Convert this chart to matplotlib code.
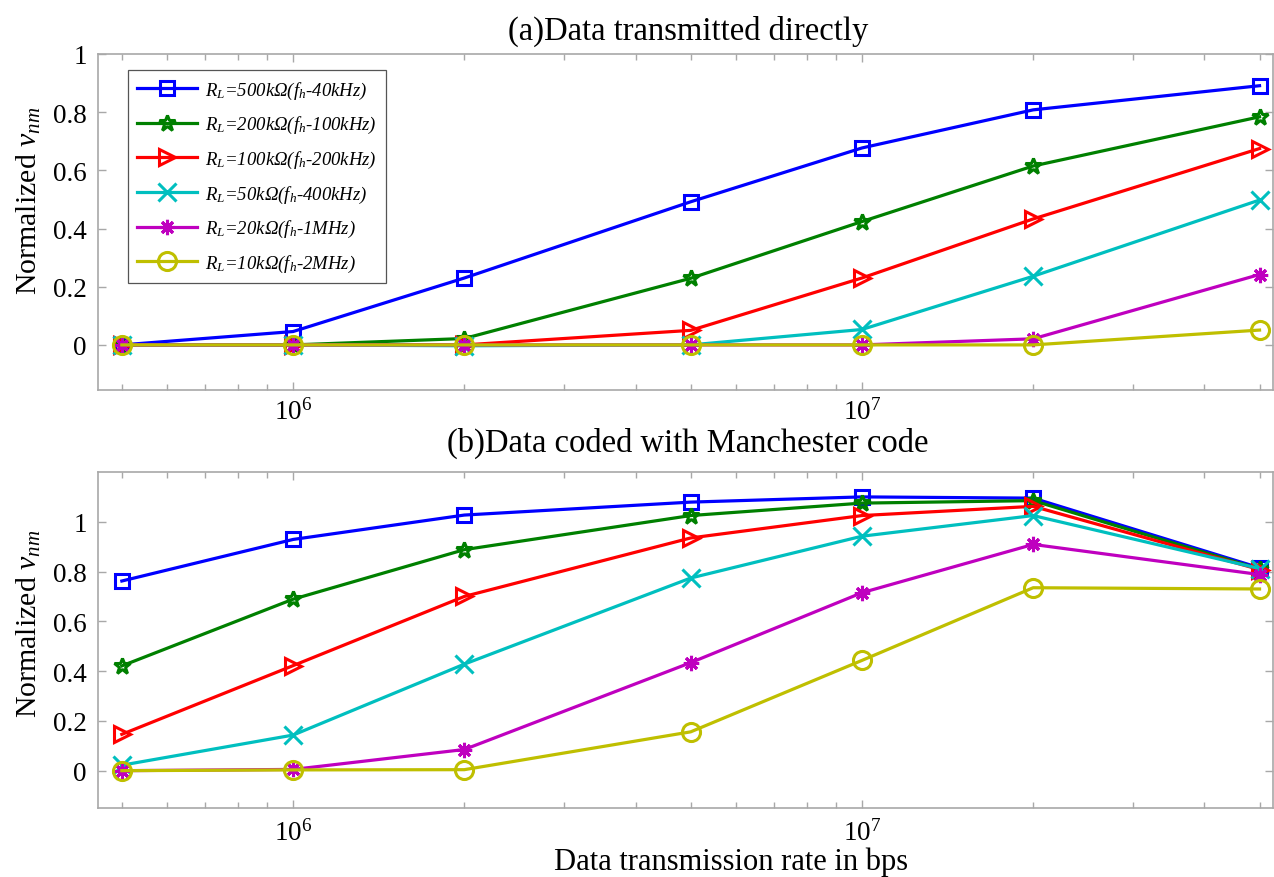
import numpy as np
import matplotlib
matplotlib.use('Agg')
import matplotlib.pyplot as plt

plt.rcParams['font.family'] = ['Liberation Serif', 'DejaVu Serif']
plt.rcParams['mathtext.fontset'] = 'custom'
plt.rcParams['mathtext.rm'] = 'Liberation Serif'
plt.rcParams['mathtext.it'] = 'Liberation Serif:italic'
plt.rcParams['mathtext.bf'] = 'Liberation Serif:bold'

# data rates (bps)
rates = [5e5, 1e6, 2e6, 5e6, 1e7, 2e7, 5e7]

labels = [
    r'$R_L$=500kΩ($f_h$-40kHz)',
    r'$R_L$=200kΩ($f_h$-100kHz)',
    r'$R_L$=100kΩ($f_h$-200kHz)',
    r'$R_L$=50kΩ($f_h$-400kHz)',
    r'$R_L$=20kΩ($f_h$-1MHz)',
    r'$R_L$=10kΩ($f_h$-2MHz)',
]

# (a) data sent directly
direct_500k = [0.0, 0.046, 0.23, 0.492, 0.677, 0.808, 0.891]
direct_200k = [0.0, 0.0, 0.022, 0.229, 0.424, 0.615, 0.784]
direct_100k = [0.0, 0.0, 0.0, 0.05, 0.23, 0.433, 0.675]
direct_50k = [0.0, 0.0, -0.003, 0.0, 0.053, 0.236, 0.498]
direct_20k = [0.0, 0.0, 0.0, 0.0, 0.0, 0.021, 0.242]
direct_10k = [0.0, 0.0, 0.0, 0.0, 0.0, 0.0, 0.051]

# (b) Manchester coded
manch_500k = [0.762, 0.929, 1.027, 1.079, 1.1, 1.095, 0.815]
manch_200k = [0.421, 0.689, 0.888, 1.025, 1.075, 1.085, 0.81]
manch_100k = [0.146, 0.422, 0.7, 0.935, 1.025, 1.062, 0.808]
manch_50k = [0.022, 0.143, 0.428, 0.774, 0.942, 1.025, 0.812]
manch_20k = [0.0, 0.005, 0.085, 0.434, 0.715, 0.909, 0.788]
manch_10k = [0.0, 0.003, 0.004, 0.156, 0.443, 0.735, 0.73]

colors = ['#0000ff', '#008000', '#ff0000', '#00bfbf', '#bf00bf', '#bfbf00']
markers = ['s', '*', '>', 'x', (8, 2, 0), 'o']
msizes = [10, 12, 12, 13, 11, 13]

fig = plt.figure(figsize=(12.74, 8.78), dpi=100)
ax_a = fig.add_axes([98 / 1274, 1 - 391 / 878, 1175 / 1274, 336 / 878])
ax_b = fig.add_axes([98 / 1274, 1 - 809 / 878, 1175 / 1274, 336 / 878])

panels = [
    (ax_a, [direct_500k, direct_200k, direct_100k, direct_50k, direct_20k, direct_10k], 0.565),
    (ax_b, [manch_500k, manch_200k, manch_100k, manch_50k, manch_20k, manch_10k], 0.55),
]

for ax, series, ylab_y in panels:
    for vals, c, m, ms, lab in zip(series, colors, markers, msizes, labels):
        ax.plot(rates, vals, color=c, lw=2.3, marker=m, ms=ms, mew=2.2,
                mfc='none', mec=c, label=lab)
    ax.set_xscale('log')
    ax.set_xlim(4.54e5, 5.28e7)
    ax.set_yticks([0, 0.2, 0.4, 0.6, 0.8, 1.0])
    ax.set_yticklabels(['0', '0.2', '0.4', '0.6', '0.8', '1'])
    for s in ax.spines.values():
        s.set_color('#a8a8a8')
        s.set_linewidth(1.2)
    ax.tick_params(which='both', direction='in', top=True, right=True,
                   color='#a8a8a8', labelsize=19.5, width=1.0)
    ax.tick_params(which='major', length=6, pad=8)
    ax.tick_params(which='minor', length=4)
    ax.set_ylabel(r'Normalized $v_{nm}$', fontsize=21.5)
    ax.yaxis.set_label_coords(-0.047, ylab_y)

# keep the upper panel's decade labels clear of the lower title
ax_a.tick_params(axis='x', which='major', pad=6)

ax_a.set_ylim(-0.155, 1.0)
ax_b.set_ylim(-0.15, 1.2)

ax_a.text(0.502, 1.071, '(a)Data transmitted directly', transform=ax_a.transAxes,
          ha='center', va='center', fontsize=23.5)
ax_b.text(0.502, 1.089, '(b)Data coded with Manchester code', transform=ax_b.transAxes,
          ha='center', va='center', fontsize=23.5)
ax_b.text(0.539, -0.157, 'Data transmission rate in bps', transform=ax_b.transAxes,
          ha='center', va='center', fontsize=22)

leg = ax_a.legend(loc='upper left', bbox_to_anchor=(0.0255, 0.952),
                  borderaxespad=0, fancybox=False, framealpha=1,
                  edgecolor='#555555', handlelength=3.2, handletextpad=0.4,
                  labelspacing=0.72, borderpad=0.5,
                  prop={'family': 'Liberation Serif', 'style': 'italic', 'size': 13.5})
leg.get_frame().set_linewidth(0.9)

fig.savefig('out.png', dpi=100, facecolor='white')
